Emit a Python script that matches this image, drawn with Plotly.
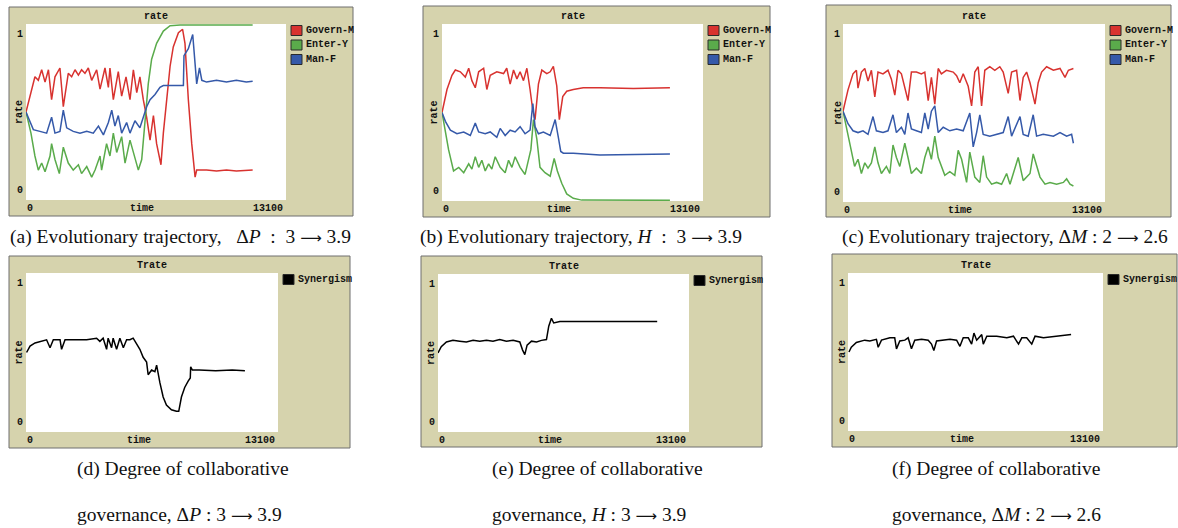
import plotly.graph_objects as go

W, H = 1178, 528

# ---------------- data (time in ticks, rate 0..1) ----------------
a_govern_t = [0,450,620,790,960,1130,1290,1460,1710,1880,2130,2300,2470,2640,2800,2970,3140,3310,3560,3730,3980,4150,4230,4400,4650,4820,5040,5240,5410,5580,5740,5910,6080,6250,6420,6580,6800,6920,7090,7260,7420,7680,7890,8010,8180,8350,8520,8600,8770,9100,9600,10100,10600,11100,11420]
a_govern_v = [0.50,0.70,0.68,0.74,0.67,0.74,0.57,0.70,0.75,0.53,0.72,0.70,0.74,0.71,0.74,0.72,0.75,0.68,0.74,0.63,0.75,0.64,0.75,0.57,0.73,0.59,0.70,0.57,0.74,0.61,0.70,0.57,0.47,0.34,0.48,0.32,0.20,0.38,0.57,0.76,0.87,0.95,0.97,0.89,0.57,0.32,0.13,0.17,0.17,0.17,0.165,0.17,0.165,0.17,0.17]
a_enter_t = [0,250,450,620,790,960,1210,1290,1460,1680,1880,2130,2380,2640,2800,3060,3310,3480,3730,3810,4060,4230,4400,4570,4820,4990,5240,5660,5830,6000,6160,6330,6580,6920,7260,7760,11420]
a_enter_v = [0.50,0.38,0.25,0.17,0.21,0.16,0.25,0.32,0.23,0.15,0.30,0.21,0.17,0.20,0.15,0.19,0.13,0.17,0.25,0.17,0.32,0.25,0.38,0.27,0.36,0.21,0.34,0.17,0.23,0.47,0.66,0.80,0.89,0.96,0.99,0.995,0.995]
a_man_t = [0,200,370,700,1040,1290,1460,1710,1880,2050,2380,2720,3060,3390,3650,3900,4150,4320,4480,4650,4820,5070,5240,5490,5740,5910,6080,6250,6500,6750,6920,7260,7590,7930,7960,8180,8400,8520,8600,8740,8860,9100,9600,10100,10600,11100,11420]
a_man_v = [0.50,0.44,0.40,0.39,0.38,0.47,0.38,0.39,0.51,0.41,0.39,0.38,0.39,0.38,0.42,0.37,0.44,0.51,0.42,0.48,0.38,0.44,0.38,0.45,0.41,0.47,0.53,0.57,0.60,0.64,0.65,0.65,0.65,0.65,0.82,0.86,0.94,0.78,0.66,0.75,0.68,0.67,0.68,0.67,0.68,0.67,0.675]

b_govern_t = [0,250,500,670,920,1170,1340,1500,1670,1840,2090,2250,2420,2750,3090,3250,3420,3590,3760,3920,4090,4260,4420,4560,4670,4840,5010,5260,5430,5590,5760,5890,6060,6260,6590,7090,7930,9600,11440]
b_govern_v = [0.50,0.63,0.71,0.74,0.73,0.70,0.75,0.68,0.64,0.73,0.75,0.63,0.71,0.73,0.72,0.75,0.66,0.74,0.69,0.73,0.68,0.75,0.63,0.51,0.46,0.66,0.74,0.72,0.73,0.76,0.65,0.46,0.59,0.62,0.63,0.64,0.64,0.635,0.64]
b_enter_t = [0,170,330,580,840,1090,1340,1500,1670,1840,2000,2170,2340,2500,2670,2920,3170,3340,3510,3670,3920,4170,4340,4460,4590,4760,4920,5170,5430,5630,5790,6010,6260,6590,7010,11440]
b_enter_v = [0.50,0.40,0.29,0.17,0.19,0.16,0.21,0.18,0.25,0.19,0.23,0.17,0.21,0.18,0.25,0.19,0.16,0.23,0.19,0.25,0.19,0.15,0.23,0.29,0.46,0.35,0.19,0.16,0.14,0.24,0.17,0.10,0.04,0.015,0.005,0.004]
b_man_t = [0,170,420,750,1090,1420,1670,1840,2170,2420,2750,2920,3170,3420,3670,3920,4170,4420,4560,4670,4840,5090,5430,5680,5840,5960,6090,6590,7930,11440]
b_man_v = [0.50,0.45,0.40,0.38,0.39,0.37,0.44,0.39,0.38,0.39,0.36,0.41,0.37,0.40,0.39,0.42,0.38,0.40,0.55,0.42,0.38,0.39,0.37,0.46,0.36,0.28,0.27,0.27,0.26,0.265]

c_govern_t = [0,250,500,670,750,920,1090,1250,1420,1590,1750,2000,2250,2420,2590,2750,2920,3090,3250,3420,3670,3920,4090,4260,4420,4590,4760,4920,5170,5510,5680,5840,6010,6260,6430,6590,6760,6930,7090,7340,7590,7840,8010,8260,8430,8680,8850,9010,9180,9350,9600,9760,9930,10180,10520,10850,11100,11270,11520]
c_govern_v = [0.51,0.63,0.72,0.74,0.64,0.73,0.75,0.68,0.74,0.59,0.73,0.72,0.74,0.69,0.60,0.74,0.72,0.65,0.57,0.73,0.73,0.72,0.73,0.57,0.70,0.55,0.75,0.72,0.74,0.73,0.71,0.67,0.72,0.65,0.54,0.73,0.76,0.54,0.74,0.76,0.74,0.76,0.73,0.61,0.73,0.74,0.57,0.70,0.73,0.67,0.55,0.67,0.73,0.76,0.74,0.75,0.70,0.74,0.75]
c_enter_t = [0,250,420,580,750,920,1090,1250,1420,1590,1750,1920,2170,2340,2500,2670,2840,3090,3250,3420,3670,3920,4090,4260,4420,4590,4760,4920,5090,5340,5590,5760,5930,6180,6340,6590,6840,7010,7180,7430,7680,7930,8180,8350,8510,8760,9010,9350,9510,9680,9850,10100,10350,10680,11020,11180,11350,11520]
c_enter_v = [0.51,0.37,0.28,0.20,0.24,0.16,0.22,0.19,0.22,0.31,0.22,0.16,0.20,0.16,0.32,0.25,0.20,0.33,0.25,0.16,0.19,0.16,0.25,0.31,0.24,0.37,0.25,0.20,0.15,0.17,0.15,0.29,0.24,0.11,0.28,0.14,0.11,0.26,0.14,0.10,0.11,0.10,0.16,0.10,0.16,0.25,0.12,0.16,0.27,0.20,0.14,0.10,0.11,0.10,0.11,0.13,0.10,0.09]
c_man_t = [0,250,500,750,1000,1250,1500,1670,2000,2250,2500,2670,2920,3090,3250,3420,3670,3920,4090,4260,4420,4590,4760,5010,5340,5680,6010,6340,6510,6680,6840,7010,7340,7680,8010,8260,8430,8850,9010,9260,9510,9680,10010,10520,10850,11180,11430,11520]
c_man_v = [0.51,0.44,0.40,0.39,0.40,0.38,0.48,0.40,0.39,0.40,0.49,0.39,0.42,0.38,0.50,0.41,0.40,0.39,0.50,0.41,0.51,0.54,0.39,0.42,0.40,0.41,0.40,0.50,0.31,0.39,0.49,0.38,0.37,0.38,0.39,0.48,0.37,0.48,0.38,0.37,0.49,0.37,0.38,0.37,0.39,0.37,0.38,0.33]

d_syn_t = [30,210,470,730,1070,1250,1420,1770,1850,2030,2460,3150,3670,3840,4010,4190,4270,4450,4530,4710,4880,5060,5230,5400,5570,5750,5920,6090,6270,6350,6530,6700,6790,6960,7130,7300,7560,7820,7940,8080,8250,8430,8540,8560,8650,9000,9860,10720,11380]
d_syn_v = [0.50,0.54,0.56,0.57,0.58,0.53,0.58,0.58,0.52,0.58,0.58,0.58,0.59,0.57,0.59,0.52,0.59,0.53,0.59,0.52,0.59,0.53,0.58,0.58,0.59,0.55,0.52,0.47,0.44,0.36,0.39,0.38,0.42,0.31,0.22,0.17,0.14,0.13,0.13,0.22,0.28,0.32,0.34,0.41,0.39,0.39,0.385,0.39,0.385]
e_syn_t = [0,170,440,780,1130,1480,1830,2180,2530,2870,3220,3570,3920,4270,4410,4530,4650,4880,5140,5400,5660,5780,5920,6040,6360,7060,8430,10170,11440]
e_syn_v = [0.50,0.54,0.57,0.58,0.575,0.57,0.58,0.575,0.58,0.575,0.585,0.575,0.58,0.57,0.52,0.49,0.55,0.575,0.57,0.58,0.585,0.67,0.72,0.69,0.70,0.70,0.70,0.70,0.70]
f_syn_t = [50,170,430,690,860,1120,1460,1550,1720,2150,2400,2490,2660,2920,3090,3260,3430,3780,4120,4290,4410,4550,4890,5240,5580,5750,5920,6180,6350,6470,6610,6870,6950,7130,7640,8160,8500,8760,8930,9180,9440,9610,10040,10730,11460]
f_syn_v = [0.50,0.53,0.56,0.57,0.575,0.57,0.58,0.53,0.575,0.59,0.59,0.52,0.57,0.575,0.59,0.52,0.575,0.58,0.575,0.55,0.51,0.57,0.575,0.58,0.575,0.536,0.59,0.59,0.55,0.62,0.575,0.61,0.55,0.60,0.60,0.59,0.60,0.55,0.59,0.59,0.55,0.60,0.59,0.60,0.61]

x_max = 13100
y_ticks = ["0", "1"]
series_names_top = ["Govern-M", "Enter-Y", "Man-F"]
series_names_bottom = ["Synergism"]
top_titles = "rate"
bottom_titles = "Trate"

ARROW = '<span style="font-family:DejaVu Sans;font-size:15px">⟶</span>'
SP = "\u2002"
NB = "\u00a0"
captions_top = [
    f"(a) Evolutionary trajectory,{NB}{NB} Δ<i>P</i>{SP}:{SP}3 {ARROW} 3.9",
    f"(b) Evolutionary trajectory, <i>H</i>{SP}:{SP}3 {ARROW} 3.9",
    f"(c) Evolutionary trajectory, Δ<i>M</i>{NB}:{NB}2 {ARROW} 2.6",
]
captions_bottom_1 = ["(d) Degree of collaborative", "(e) Degree of collaborative", "(f) Degree of collaborative"]
captions_bottom_2 = [
    f"governance, Δ<i>P</i>{NB}:{NB}3 {ARROW} 3.9",
    f"governance, <i>H</i>{NB}:{NB}3 {ARROW} 3.9",
    f"governance, Δ<i>M</i>{NB}:{NB}2 {ARROW} 2.6",
]

# ---------------- styles ----------------
RED, GREEN, BLUE, BLACK = "#D8322F", "#5AAB4B", "#3559A9", "#000000"
FRAME_FILL, FRAME_LINE = "#D6D3AD", "#6E6E6E"
NL_FONT = "Liberation Mono"
CAP_FONT = "Liberation Serif"

panels = [
    dict(frame=(9, 7, 353, 216), plot=(26, 24, 286, 200), title=top_titles,
         series=[(a_govern_t, a_govern_v, RED), (a_enter_t, a_enter_v, GREEN), (a_man_t, a_man_v, BLUE)],
         names=series_names_top, ylab_shift=-7),
    dict(frame=(423, 6, 770, 217), plot=(442, 24, 703, 201), title=top_titles,
         series=[(b_govern_t, b_govern_v, RED), (b_enter_t, b_enter_v, GREEN), (b_man_t, b_man_v, BLUE)],
         names=series_names_top, ylab_shift=-8),
    dict(frame=(826, 5, 1171, 217), plot=(843, 24, 1105, 202), title=top_titles,
         series=[(c_govern_t, c_govern_v, RED), (c_enter_t, c_enter_v, GREEN), (c_man_t, c_man_v, BLUE)],
         names=series_names_top, ylab_shift=-5),
    dict(frame=(9, 256, 350, 448), plot=(26, 273, 278, 432), title=bottom_titles,
         series=[(d_syn_t, d_syn_v, BLACK)], names=series_names_bottom, ylab_shift=-7),
    dict(frame=(421, 256, 762, 447), plot=(438, 274, 689, 432), title=bottom_titles,
         series=[(e_syn_t, e_syn_v, BLACK)], names=series_names_bottom, ylab_shift=-7),
    dict(frame=(832, 254, 1177, 447), plot=(848, 273, 1103, 431), title=bottom_titles,
         series=[(f_syn_t, f_syn_v, BLACK)], names=series_names_bottom, ylab_shift=-6),
]

def px(x):
    return x / W

def py(y):
    return 1 - y / H

fig = go.Figure()
layout = dict(width=W, height=H, margin=dict(l=0, r=0, t=0, b=0),
              paper_bgcolor="white", plot_bgcolor="white", showlegend=False)
shapes, annotations = [], []

nl = dict(family=NL_FONT, size=10, color="#111111")

for i, p in enumerate(panels, start=1):
    xn = "x" if i == 1 else f"x{i}"
    yn = "y" if i == 1 else f"y{i}"
    xk = "xaxis" if i == 1 else f"xaxis{i}"
    yk = "yaxis" if i == 1 else f"yaxis{i}"
    x0, y0, x1, y1 = p["plot"]
    layout[xk] = dict(domain=[px(x0), px(x1)], range=[0, x_max], anchor=yn,
                      showgrid=False, zeroline=False, showticklabels=False, ticks="", showline=False)
    layout[yk] = dict(domain=[py(y1), py(y0)], range=[0, 1], anchor=xn,
                      showgrid=False, zeroline=False, showticklabels=False, ticks="", showline=False)

    fx0, fy0, fx1, fy1 = p["frame"]
    shapes.append(dict(type="rect", xref="paper", yref="paper", layer="below",
                       x0=px(fx0), x1=px(fx1), y0=py(fy1), y1=py(fy0),
                       fillcolor=FRAME_FILL, line=dict(color=FRAME_LINE, width=1)))
    shapes.append(dict(type="rect", xref="paper", yref="paper", layer="below",
                       x0=px(x0), x1=px(x1), y0=py(y1), y1=py(y0),
                       fillcolor="white", line=dict(width=0)))

    for (t, v, col) in p["series"]:
        fig.add_trace(go.Scatter(x=t, y=v, mode="lines", xaxis=xn, yaxis=yn,
                                 line=dict(color=col, width=1.5), hoverinfo="skip"))

    xd, yd = f"{xn} domain", f"{yn} domain"
    annotations.append(dict(text=f"<b>{p['title']}</b>", xref=xd, x=0.5, yref=yd, y=1,
                            xanchor="center", yanchor="bottom", yshift=0, showarrow=False, font=nl))
    annotations.append(dict(text="<b>0</b>", xref=xn, x=0, yref=yd, y=0, xanchor="left",
                            yanchor="top", xshift=-1, yshift=-1, showarrow=False, font=nl))
    annotations.append(dict(text=f"<b>{x_max}</b>", xref=xn, x=x_max, yref=yd, y=0, xanchor="right",
                            yanchor="top", xshift=-1, yshift=-1, showarrow=False, font=nl))
    annotations.append(dict(text="<b>time</b>", xref=xd, x=0.447, yref=yd, y=0, xanchor="center",
                            yanchor="top", yshift=-1, showarrow=False, font=nl))
    annotations.append(dict(text=f"<b>{y_ticks[1]}</b>", xref=xd, x=0, yref=yn, y=1, xanchor="right",
                            yanchor="top", xshift=-1, yshift=-3, showarrow=False, font=nl))
    annotations.append(dict(text=f"<b>{y_ticks[0]}</b>", xref=xd, x=0, yref=yn, y=0, xanchor="right",
                            yanchor="bottom", xshift=-1, yshift=2, showarrow=False, font=nl))
    annotations.append(dict(text="<b>rate</b>", xref=xd, x=0, yref=yd, y=0.5, xanchor="center",
                            yanchor="middle", xshift=p["ylab_shift"], textangle=-90, showarrow=False, font=nl))
    for k, ((t, v, col), name) in enumerate(zip(p["series"], p["names"])):
        bx0 = x1 + 5
        by0 = y0 + 1.5 + k * 14.5
        shapes.append(dict(type="rect", xref="paper", yref="paper",
                           x0=px(bx0), x1=px(bx0 + 11), y0=py(by0 + 10), y1=py(by0),
                           fillcolor=col, line=dict(color="#2a2a2a", width=1)))
        annotations.append(dict(text=f"<b>{name}</b>", xref="paper", yref="paper",
                                x=px(bx0 + 13), y=py(by0 + 5), xanchor="left", yanchor="middle",
                                showarrow=False, font=nl))

cap = dict(family=CAP_FONT, size=19.5, color="#111111")
for x_left, txt in zip([8, 418, 840], captions_top):
    annotations.append(dict(text=txt, xref="paper", yref="paper", x=px(x_left), y=py(237),
                            xanchor="left", yanchor="middle", showarrow=False, font=cap))
for x_left, t1, t2 in zip([75, 490, 890], captions_bottom_1, captions_bottom_2):
    annotations.append(dict(text=t1, xref="paper", yref="paper", x=px(x_left), y=py(469),
                            xanchor="left", yanchor="middle", showarrow=False, font=cap))
    annotations.append(dict(text=t2, xref="paper", yref="paper", x=px(x_left), y=py(514),
                            xanchor="left", yanchor="middle", showarrow=False, font=cap))

layout["shapes"] = shapes
layout["annotations"] = annotations
fig.update_layout(**layout)
fig.write_html("out.html", config={"displayModeBar": False},
               post_script="document.body.style.margin='0px';")
